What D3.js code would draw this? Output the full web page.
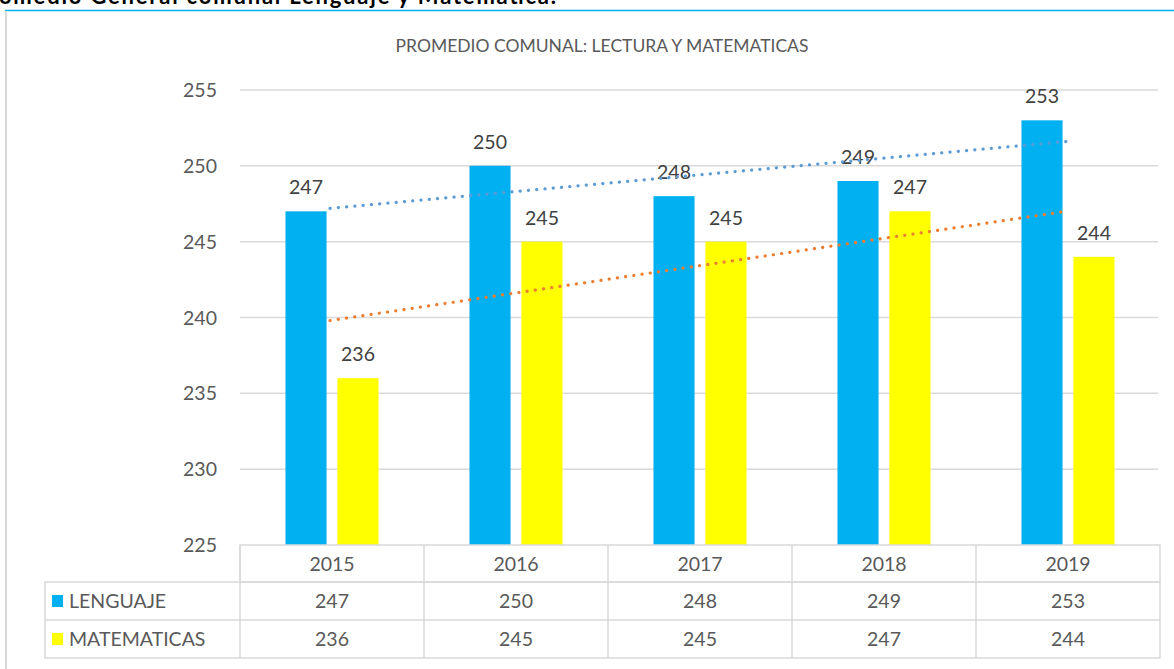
<!DOCTYPE html>
<html>
<head>
<meta charset="utf-8">
<script src="https://cdn.jsdelivr.net/npm/d3@7"></script>
<style>
  body { margin: 0; background: #fff; overflow: hidden; }
  text { font-family: Lato, "Open Sans", sans-serif; }
</style>
</head>
<body>
<script>
    var w = 1174;
    var h = 669;

    // Data
    var years = ["2015", "2016", "2017", "2018", "2019"];
    var seriesNames = ["LENGUAJE", "MATEMATICAS"];
    var lenguaje = [247, 250, 248, 249, 253];
    var matematicas = [236, 245, 245, 247, 244];
    var yTicks = [225, 230, 235, 240, 245, 250, 255];

    var colors = { LENGUAJE: "#00b0f0", MATEMATICAS: "#ffff00" };
    var trendColors = { LENGUAJE: "#5b9bd5", MATEMATICAS: "#ed7d31" };
    var values = { LENGUAJE: lenguaje, MATEMATICAS: matematicas };

    var svg = d3.select("body").append("svg")
        .attr("width", w)
        .attr("height", h);

    // page title (cut off at top, as in the source document)
    svg.append("text")
        .attr("x", -26)
        .attr("y", 4)
        .attr("textLength", 582)
        .attr("lengthAdjust", "spacing")
        .style("font-weight", "bold")
        .style("font-size", "22px")
        .attr("fill", "#000")
        .text("Promedio General comunal  Lenguaje y Matematica.");

    // frame
    svg.append("line").attr("x1", 5).attr("x2", w).attr("y1", 10.5).attr("y2", 10.5)
        .attr("stroke", "#00b0f0").attr("stroke-width", 1.5);
    svg.append("line").attr("x1", 6).attr("x2", 6).attr("y1", 11).attr("y2", h)
        .attr("stroke", "#d9d9d9").attr("stroke-width", 2);

    // chart title
    svg.append("text")
        .attr("x", 602)
        .attr("y", 52)
        .attr("text-anchor", "middle")
        .style("font-size", "17.5px")
        .attr("fill", "#595959")
        .text("PROMEDIO COMUNAL: LECTURA Y MATEMATICAS");

    // scales
    var x0 = d3.scaleBand()
        .domain(years)
        .range([240, 1160]);

    var x1 = d3.scaleBand()
        .domain(seriesNames)
        .range([0, x0.bandwidth()])
        .paddingInner(0.21)
        .paddingOuter(0.875);

    var y = d3.scaleLinear()
        .domain([225, 255])
        .range([545, 90]);

    // gridlines
    svg.append("g").selectAll("line")
        .data(yTicks.slice(1))
        .enter().append("line")
        .attr("x1", 240).attr("x2", 1158)
        .attr("y1", function(d) { return y(d); })
        .attr("y2", function(d) { return y(d); })
        .attr("stroke", "#d9d9d9")
        .attr("stroke-width", 1.5);

    // y labels
    svg.append("g").selectAll("text")
        .data(yTicks)
        .enter().append("text")
        .attr("x", 217)
        .attr("y", function(d) { return y(d); })
        .attr("dy", "0.36em")
        .attr("text-anchor", "end")
        .style("font-size", "19.5px")
        .attr("fill", "#595959")
        .text(function(d) { return d; });

    // bars
    var groups = svg.append("g").selectAll("g")
        .data(seriesNames)
        .enter().append("g")
        .attr("fill", function(d) { return colors[d]; });

    groups.selectAll("rect")
        .data(function(s) {
            return years.map(function(yr, i) { return { s: s, year: yr, v: values[s][i] }; });
        })
        .enter().append("rect")
        .attr("x", function(d) { return x0(d.year) + x1(d.s); })
        .attr("y", function(d) { return y(d.v); })
        .attr("width", x1.bandwidth())
        .attr("height", function(d) { return y(225) - y(d.v); });

    // trend lines (linear fit)
    seriesNames.forEach(function(s) {
        var vals = values[s];
        var n = vals.length;
        var mx = d3.mean(vals, function(d, i) { return i; });
        var my = d3.mean(vals);
        var num = d3.sum(vals, function(d, i) { return (i - mx) * (d - my); });
        var den = d3.sum(vals, function(d, i) { return (i - mx) * (i - mx); });
        var slope = num / den;
        var icpt = my - slope * mx;
        var pts = [0, n - 1].map(function(i) {
            return [x0(years[i]) + x0.bandwidth() / 2 - 2, y(icpt + slope * i)];
        });
        svg.append("path")
            .attr("d", d3.line()(pts))
            .attr("fill", "none")
            .attr("stroke", trendColors[s])
            .attr("stroke-width", 3.2)
            .attr("stroke-linecap", "round")
            .attr("stroke-dasharray", "0.1 8.2");
    });

    // data labels
    groups.selectAll("text")
        .data(function(s) {
            return years.map(function(yr, i) { return { s: s, year: yr, v: values[s][i] }; });
        })
        .enter().append("text")
        .attr("x", function(d) { return x0(d.year) + x1(d.s) + x1.bandwidth() / 2; })
        .attr("y", function(d) { return y(d.v) - 17; })
        .attr("text-anchor", "middle")
        .style("font-size", "19.5px")
        .attr("fill", "#404040")
        .text(function(d) { return d.v; });

    // data table
    var rowY = [545, 582, 620, 658];
    var table = svg.append("g")
        .attr("stroke", "#d9d9d9")
        .attr("stroke-width", 1.5)
        .attr("fill", "none");

    // header row
    table.append("rect").attr("x", 240).attr("y", rowY[0]).attr("width", 920).attr("height", rowY[1] - rowY[0]);
    // body rows
    table.append("rect").attr("x", 45).attr("y", rowY[1]).attr("width", 1115).attr("height", rowY[3] - rowY[1]);
    table.append("line").attr("x1", 45).attr("x2", 1160).attr("y1", rowY[2]).attr("y2", rowY[2]);
    table.selectAll("line.col")
        .data(years)
        .enter().append("line")
        .attr("class", "col")
        .attr("x1", function(d) { return x0(d); })
        .attr("x2", function(d) { return x0(d); })
        .attr("y1", rowY[0]).attr("y2", rowY[3]);

    // header labels
    svg.append("g").selectAll("text")
        .data(years)
        .enter().append("text")
        .attr("x", function(d) { return x0(d) + x0.bandwidth() / 2; })
        .attr("y", (rowY[0] + rowY[1]) / 2)
        .attr("dy", "0.36em")
        .attr("text-anchor", "middle")
        .style("font-size", "19.5px")
        .attr("fill", "#595959")
        .text(function(d) { return d; });

    // table rows
    seriesNames.forEach(function(s, r) {
        var cy = (rowY[r + 1] + rowY[r + 2]) / 2;
        svg.append("rect")
            .attr("x", 52).attr("y", cy - 6)
            .attr("width", 11).attr("height", 12)
            .attr("fill", colors[s]);
        svg.append("text")
            .attr("x", 69).attr("y", cy)
            .attr("dy", "0.36em")
            .style("font-size", "19.5px")
            .attr("fill", "#595959")
            .text(s);
        svg.append("g").selectAll("text")
            .data(values[s])
            .enter().append("text")
            .attr("x", function(d, i) { return x0(years[i]) + x0.bandwidth() / 2; })
            .attr("y", cy)
            .attr("dy", "0.36em")
            .attr("text-anchor", "middle")
            .style("font-size", "19.5px")
            .attr("fill", "#595959")
            .text(function(d) { return d; });
    });
</script>
</body>
</html>
